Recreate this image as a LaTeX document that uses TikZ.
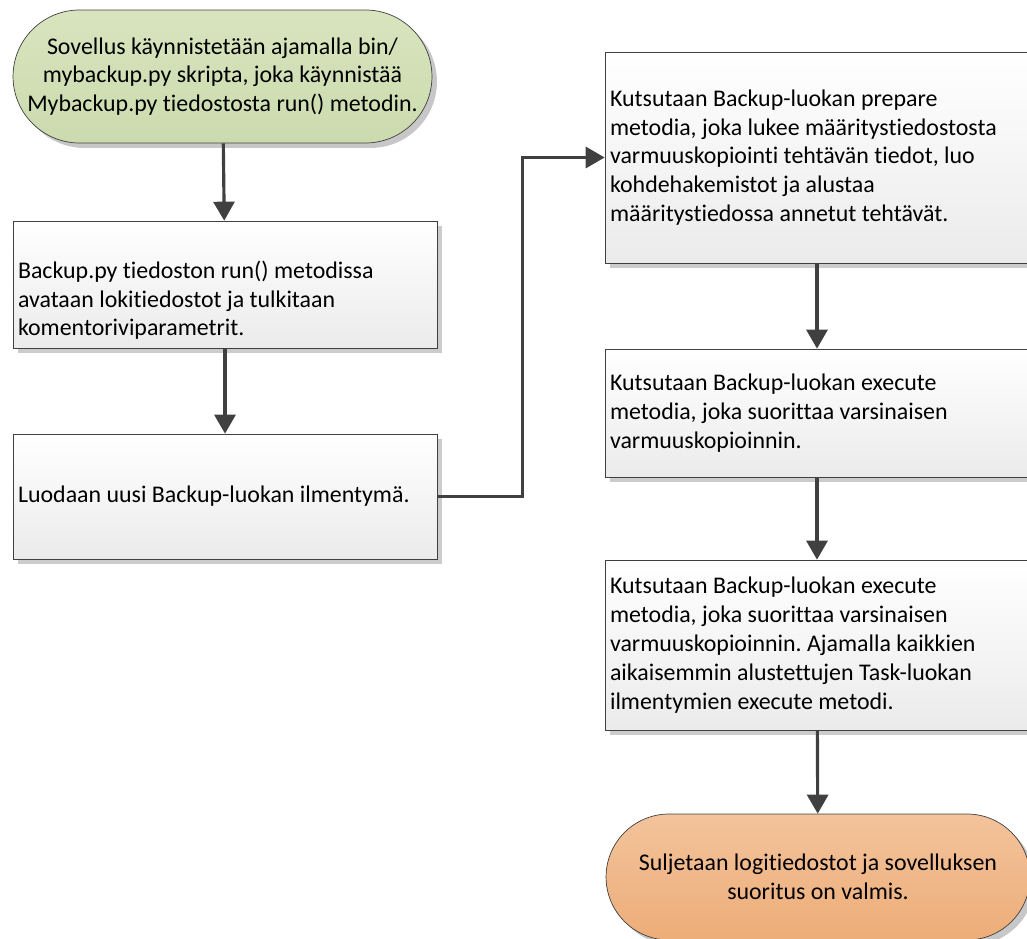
\documentclass[tikz,border=0pt]{standalone}
\usepackage{fontspec}
\setmainfont{Carlito}[Ligatures=NoCommon]
\usepackage{xcolor}
\usepackage{tikz}
\usetikzlibrary{positioning, arrows.meta, shadows}
\definecolor{startgreen}{HTML}{D8E4BE}
\definecolor{startgreendark}{HTML}{CCDBAE}
\definecolor{stoporange}{HTML}{F3C39C}
\definecolor{stoporangedark}{HTML}{EDAD78}
\definecolor{stepgray}{HTML}{EBEBEB}
\definecolor{edgegray}{HTML}{404040}
\newcommand{\startfill}{startgreen}
\newcommand{\stopfill}{stoporange}
\newcommand{\arrowcolor}{edgegray}
\frenchspacing

\begin{document}
\begin{tikzpicture}[
      % GLOBAL CFG
      x=0.02cm, y=-0.02cm,
      font=\fontsize{13.6}{16.4}\selectfont,
      >={Triangle[length=0.38cm, width=0.42cm]},
      % Styles
      terminal/.style={% For start and end
        rectangle,
        draw=\arrowcolor,
        thin,
        align=center,
        minimum width=8.4cm,
        drop shadow={shadow xshift=0.1cm, shadow yshift=-0.1cm, fill=black!22, opacity=1}
      },
      stepbox/.style={% For the steps
        rectangle,
        draw=\arrowcolor,
        thin,
        top color=white,
        bottom color=stepgray,
        align=flush left,
        text width=8.28cm,
        inner xsep=0.1cm,
        minimum width=8.48cm,
        drop shadow={shadow xshift=0.1cm, shadow yshift=-0.1cm, fill=black!20, opacity=1}
      },
      arrowfunction/.style={% Arrows between steps
        draw=\arrowcolor,
        line width=1.8pt,
        ->,
      }
      ]

      \useasboundingbox (0,0) rectangle (1027,939);

      % Left column
      \node [terminal, top color=\startfill, bottom color=startgreendark,
             minimum width=8.38cm, minimum height=2.66cm, rounded corners=1.33cm]
            (start) at (222.5,76.5)
            {Sovellus käynnistetään ajamalla bin/\\
             mybackup.py skripta, joka käynnistää\\
             Mybackup.py tiedostosta run() metodin.};

      \node [stepbox, minimum height=2.54cm] (runbackup) at (225,284.5)
            {\strut\\
             Backup.py tiedoston run() metodissa\\
             avataan lokitiedostot ja tulkitaan\\
             komentoriviparametrit.};
      \draw [arrowfunction] (start) -- (runbackup);

      \node [stepbox, minimum height=2.5cm] (instance) at (225,496.5)
            {Luodaan uusi Backup-luokan ilmentymä.};
      \draw [arrowfunction] (runbackup) -- (instance);

      % Right column
      \node [stepbox, minimum height=4.22cm] (prepare) at (817,157.5)
            {Kutsutaan Backup-luokan prepare\\
             metodia, joka lukee määritystiedostosta\\
             varmuuskopiointi tehtävän tiedot, luo\\
             kohdehakemistot ja alustaa\\
             määritystiedossa annetut tehtävät.};
      \draw [arrowfunction] (instance.east) -- ++(85,0) |- (prepare.west);

      \node [stepbox, minimum height=2.56cm] (execute) at (817,413)
            {Kutsutaan Backup-luokan execute\\
             metodia, joka suorittaa varsinaisen\\
             varmuuskopioinnin.};
      \draw [arrowfunction] (prepare) -- (execute);

      \node [stepbox, minimum height=3.4cm] (tasks) at (817,645)
            {Kutsutaan Backup-luokan execute\\
             metodia, joka suorittaa varsinaisen\\
             varmuuskopioinnin. Ajamalla kaikkien\\
             aikaisemmin alustettujen Task-luokan\\
             ilmentymien execute metodi.};
      \draw [arrowfunction] (execute) -- (tasks);

      \node [terminal, top color=\stopfill, bottom color=stoporangedark,
             minimum width=8.48cm, minimum height=2.52cm, rounded corners=1.26cm]
            (stop) at (818,877)
            {Suljetaan logitiedostot ja sovelluksen\\
             suoritus on valmis.};
      \draw [arrowfunction] (tasks) -- (stop);

\end{tikzpicture}
\end{document}
